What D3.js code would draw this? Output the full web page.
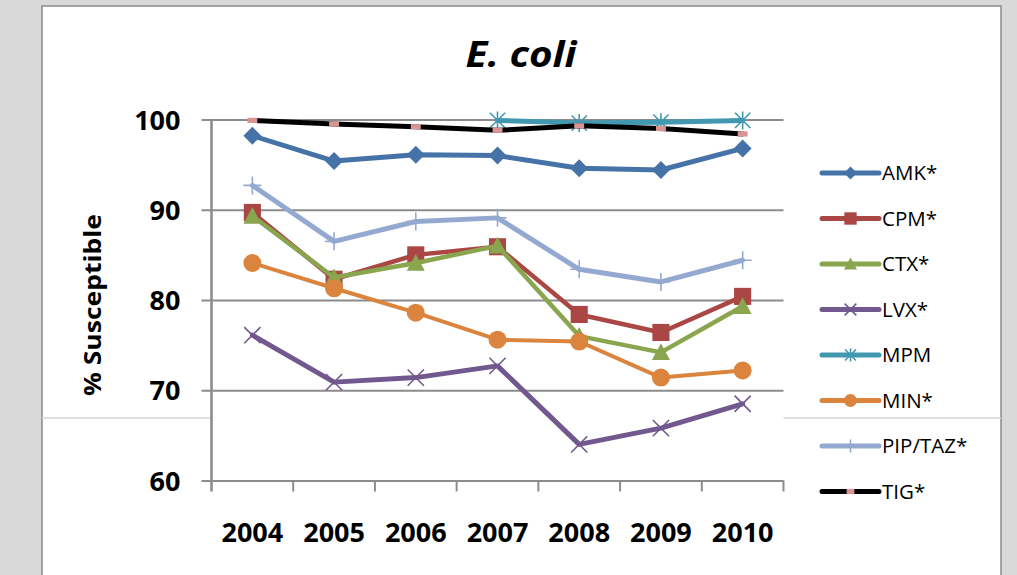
<!DOCTYPE html>
<html>
<head>
<meta charset="utf-8">
<script src="https://cdn.jsdelivr.net/npm/d3@7/dist/d3.min.js"></script>
<style>
  html, body { margin: 0; padding: 0; background: #d9d9d9; }
  svg { display: block; }
</style>
</head>
<body>
<svg id="chart" width="1017" height="575"></svg>
<script>
// Years on the category axis
const years = ["2004", "2005", "2006", "2007", "2008", "2009", "2010"];

// % susceptible per antimicrobial, one value per year (null = not tested)
const amk    = [98.2, 95.4, 96.1, 96.0, 94.6, 94.4, 96.8];
const cpm    = [89.7, 82.3, 85.0, 85.9, 78.4, 76.4, 80.4];
const ctx    = [89.3, 82.5, 84.1, 86.0, 76.0, 74.2, 79.3];
const lvx    = [76.1, 70.9, 71.4, 72.7, 64.0, 65.8, 68.5];
const mpm    = [null, null, null, 99.9, 99.6, 99.7, 99.9];
const minocy = [84.1, 81.3, 78.6, 75.6, 75.4, 71.4, 72.2];
const piptaz = [92.7, 86.5, 88.7, 89.1, 83.4, 82.0, 84.4];
const tig    = [99.9, 99.5, 99.2, 98.8, 99.3, 99.0, 98.4];

const seriesNames = ["AMK*", "CPM*", "CTX*", "LVX*", "MPM", "MIN*", "PIP/TAZ*", "TIG*"];
const seriesValues = [amk, cpm, ctx, lvx, mpm, minocy, piptaz, tig];

const yTicks = [60, 70, 80, 90, 100];

// Drawing styles per series
const styles = [
  { color: "#4572a7", width: 5,   marker: "diamond" },
  { color: "#aa4643", width: 4.5, marker: "square" },
  { color: "#89a54e", width: 4.5, marker: "triangle" },
  { color: "#71588f", width: 5,   marker: "x" },
  { color: "#4198af", width: 5,   marker: "star" },
  { color: "#db843d", width: 4,   marker: "circle" },
  { color: "#93a9cf", width: 5,   marker: "plus" },
  { color: "#000000", width: 5,   marker: "bar", markerColor: "#d99594" }
];

const svg = d3.select("#chart");
const font = "'Open Sans', 'Liberation Sans', sans-serif";

// Chart panel
svg.append("rect")
  .attr("x", 42).attr("y", 6).attr("width", 959).attr("height", 580)
  .attr("fill", "#ffffff").attr("stroke", "#8a8a8a").attr("stroke-width", 1.5);

// faint rule across the panel
svg.append("line")
  .attr("x1", 42).attr("x2", 1001).attr("y1", 418).attr("y2", 418)
  .attr("stroke", "#d4d4d4").attr("stroke-width", 1.5);

const plot = { left: 211.5, right: 783.5, top: 119.5, bottom: 480.5 };

svg.append("rect")
  .attr("x", plot.left).attr("y", plot.top - 10)
  .attr("width", plot.right - plot.left).attr("height", plot.bottom - plot.top + 10)
  .attr("fill", "#ffffff");

const x = d3.scaleBand().domain(years).range([plot.left, plot.right]).padding(0);
const y = d3.scaleLinear().domain([60, 100]).range([plot.bottom, plot.top]);
const cx = d => x(d) + x.bandwidth() / 2;

// Horizontal gridlines with short outside ticks
const yAxis = d3.axisLeft(y).tickValues(yTicks)
  .tickSize(-(plot.right - plot.left)).tickSizeOuter(0).tickFormat(d3.format("d"));
const gy = svg.append("g").attr("transform", `translate(${plot.left},0)`).call(yAxis);
gy.select(".domain").remove();
gy.selectAll(".tick line")
  .attr("x1", -10)
  .attr("stroke", "#8c8c8c").attr("stroke-width", 2.2);
gy.selectAll(".tick text")
  .attr("x", -31).attr("dy", "0.36em")
  .attr("font-family", font).attr("font-weight", 700).attr("font-size", 27)
  .attr("fill", "#000");

// Vertical axis line
svg.append("line")
  .attr("x1", plot.left).attr("x2", plot.left)
  .attr("y1", plot.top).attr("y2", plot.bottom + 11)
  .attr("stroke", "#8c8c8c").attr("stroke-width", 2.6);

// Category axis: ticks on band boundaries
const xAxis = d3.axisBottom(x).tickSize(0).tickSizeOuter(0);
const gx = svg.append("g").attr("transform", `translate(0,${plot.bottom})`).call(xAxis);
gx.select(".domain").remove();
gx.selectAll(".tick text")
  .attr("y", 52).attr("dy", "0.36em")
  .attr("font-family", font).attr("font-weight", 700).attr("font-size", 27)
  .attr("fill", "#000");
const bounds = years.map(d => x(d)).concat([x(years[years.length - 1]) + x.bandwidth()]);
svg.append("g").selectAll("line").data(bounds.slice(1)).join("line")
  .attr("x1", d => d).attr("x2", d => d)
  .attr("y1", plot.bottom).attr("y2", plot.bottom + 11)
  .attr("stroke", "#8c8c8c").attr("stroke-width", 2);

// Titles
svg.append("text")
  .attr("x", 521).attr("y", 67).attr("text-anchor", "middle")
  .attr("font-family", font).attr("font-weight", 700).attr("font-style", "italic")
  .attr("font-size", 36)
  .attr("textLength", 111).attr("lengthAdjust", "spacingAndGlyphs")
  .text("E. coli");

svg.append("text")
  .attr("transform", "translate(101,305) rotate(-90)")
  .attr("text-anchor", "middle")
  .attr("font-family", font).attr("font-weight", 700).attr("font-size", 24)
  .attr("textLength", 182).attr("lengthAdjust", "spacingAndGlyphs")
  .text("% Susceptible");

// Marker drawing
function drawMarker(g, type, color, s, mcolor) {
  const h = s / 2;
  if (type === "diamond") {
    g.append("path").attr("d", `M0,${-h}L${h},0L0,${h}L${-h},0Z`).attr("fill", color);
  } else if (type === "square") {
    const a = h * 0.95;
    g.append("rect").attr("x", -a).attr("y", -a).attr("width", 2 * a).attr("height", 2 * a).attr("fill", color);
  } else if (type === "triangle") {
    g.append("path").attr("d", `M0,${-h}L${h},${h * 0.85}L${-h},${h * 0.85}Z`).attr("fill", color);
  } else if (type === "circle") {
    g.append("circle").attr("r", h).attr("fill", color);
  } else if (type === "x") {
    const a = h * 0.9;
    g.append("path").attr("d", `M${-a},${-a}L${a},${a}M${-a},${a}L${a},${-a}`)
      .attr("stroke", color).attr("stroke-width", 1.6).attr("fill", "none");
  } else if (type === "star") {
    const a = h * 0.85;
    g.append("path").attr("d", `M${-a},${-a}L${a},${a}M${-a},${a}L${a},${-a}M0,${-h}L0,${h}`)
      .attr("stroke", color).attr("stroke-width", 1.6).attr("fill", "none");
  } else if (type === "plus") {
    g.append("path").attr("d", `M0,${-h}L0,${h}M${-h},0L${h},0`)
      .attr("stroke", color).attr("stroke-width", 1.6).attr("fill", "none");
  } else if (type === "bar") {
    g.append("rect").attr("x", -s * 0.55).attr("y", -2.6).attr("width", s * 1.1).attr("height", 5.2)
      .attr("fill", mcolor);
  }
}

const line = d3.line()
  .defined(d => d.v != null)
  .x(d => cx(d.year))
  .y(d => y(d.v));

seriesValues.forEach((vals, i) => {
  const st = styles[i];
  const pts = years.map((yr, j) => ({ year: yr, v: vals[j] }));
  const g = svg.append("g");
  g.append("path").datum(pts)
    .attr("d", line)
    .attr("fill", "none").attr("stroke", st.color)
    .attr("stroke-width", st.width)
    .attr("stroke-linejoin", "round").attr("stroke-linecap", "round");
  pts.filter(p => p.v != null).forEach(p => {
    const m = g.append("g").attr("transform", `translate(${cx(p.year)},${y(p.v)})`);
    drawMarker(m, st.marker, st.color, st.marker === "bar" ? 9 : 18, st.markerColor);
  });
});

// Legend
const legend = svg.append("g");
seriesNames.forEach((name, i) => {
  const st = styles[i];
  const ly = 173 + i * 45.5;
  const row = legend.append("g").attr("transform", `translate(0,${ly})`);
  row.append("line")
    .attr("x1", 822).attr("x2", 879).attr("y1", 0).attr("y2", 0)
    .attr("stroke", st.color).attr("stroke-width", 5).attr("stroke-linecap", "round");
  const m = row.append("g").attr("transform", "translate(850.5,0)");
  drawMarker(m, st.marker, st.color, st.marker === "bar" ? 7 : 13, st.markerColor);
  row.append("text")
    .attr("x", 882).attr("y", 0).attr("dy", "0.36em")
    .attr("font-family", font).attr("font-size", 20.5).attr("fill", "#000")
    .text(name);
});
</script>
</body>
</html>
